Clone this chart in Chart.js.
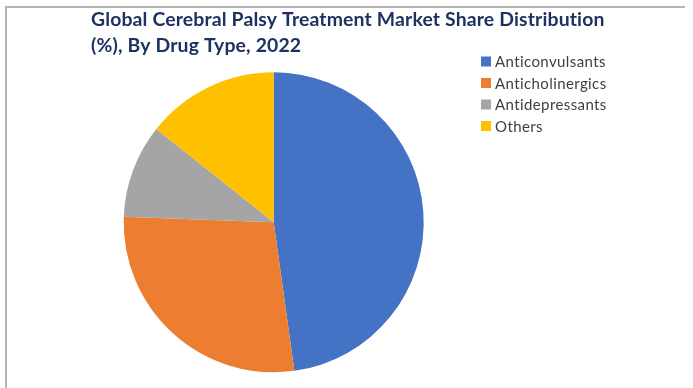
<!DOCTYPE html>
<html>
<head>
<meta charset="utf-8">
<script src="https://cdn.jsdelivr.net/npm/chart.js@4.4.0/dist/chart.umd.min.js"></script>
<style>
  body { margin: 0; background: #fff; }
  #wrap { position: relative; width: 693px; height: 388px; overflow: hidden; }
  #frame { position: absolute; left: 5px; top: 6px; width: 678px; height: 400px;
           border-top: 2px solid #b4b4b4; border-left: 2px solid #b4b4b4; }
  canvas { position: absolute; left: 0; top: 0; }
</style>
</head>
<body>
<div id="wrap">
  <div id="frame"></div>
  <canvas id="chart" width="693" height="388"></canvas>
</div>
<script>
const titleLines = [
  "Global Cerebral Palsy Treatment Market Share Distribution",
  "(%), By Drug Type, 2022"
];
const drugTypes = ["Anticonvulsants", "Anticholinergics", "Antidepressants", "Others"];
const shares = [47.8, 27.8, 10.1, 14.3];
const sliceColors = ["#4472C4", "#ED7D31", "#A5A5A5", "#FFC000"];

// title and legend are placed by hand, the built-in ones can't sit like the excel layout
const headerPlugin = {
  id: "header",
  afterDraw(chart) {
    const ctx = chart.ctx;
    ctx.save();
    ctx.font = "bold 19.4px Lato";
    ctx.letterSpacing = "0.15px"; // also stops the "ti" ligature
    ctx.fillStyle = "#1C3260";
    ctx.textBaseline = "alphabetic";
    titleLines.forEach((line, i) => ctx.fillText(line, 91, 26 + i * 25.5));

    ctx.font = "15px Lato";
    ctx.letterSpacing = "0.4px";
    chart.data.labels.forEach((label, i) => {
      const cy = 61.5 + i * 21.5;
      ctx.fillStyle = chart.data.datasets[0].backgroundColor[i];
      ctx.fillRect(481, cy - 5, 10, 10);
      ctx.fillStyle = "#404040";
      ctx.fillText(label, 495, cy + 5.5);
    });
    ctx.restore();
  }
};

const ctx = document.getElementById("chart").getContext("2d");
new Chart(ctx, {
  type: "pie",
  data: {
    labels: drugTypes,
    datasets: [{
      data: shares,
      backgroundColor: sliceColors,
      borderWidth: 0,
    }],
  },
  options: {
    responsive: false,
    animation: false,
    layout: {
      padding: { left: 123.7, right: 269.3, top: 72.3, bottom: 15.7 },
    },
    plugins: {
      legend: { display: false },
      title: { display: false },
      tooltip: { enabled: false },
    },
  },
  plugins: [headerPlugin],
});
</script>
</body>
</html>
